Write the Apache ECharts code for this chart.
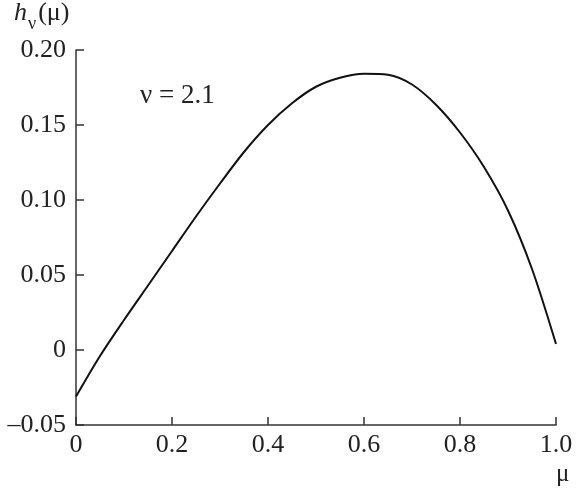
<!DOCTYPE html>
<html>
<head>
<meta charset="utf-8">
<script src="https://cdn.jsdelivr.net/npm/echarts@6/dist/echarts.min.js"></script>
<style>
  html, body { margin: 0; padding: 0; background: #fff; }
  #chart { width: 580px; height: 489px; }
</style>
</head>
<body>
<div id="chart"></div>
<script>
    // values (nu = 2.1)
    const muValues = [0, 0.05, 0.1, 0.15, 0.2, 0.25, 0.3, 0.35, 0.4, 0.45, 0.5,
        0.55, 0.6, 0.65, 0.7, 0.75, 0.8, 0.85, 0.9, 0.95, 1.0];
    const hValues = [-0.031, -0.004, 0.020, 0.043, 0.066, 0.089, 0.111, 0.132, 0.150, 0.1645, 0.1755,
        0.1815, 0.1842, 0.1835, 0.177, 0.1635, 0.145, 0.122, 0.093, 0.054, 0.004];
    const xTicks = { min: 0, max: 1, step: 0.2 };
    const yTicks = { min: -0.05, max: 0.20, step: 0.05 };

    const serif = '"Liberation Serif", "DejaVu Serif", serif';
    const ink = '#222';

    document.addEventListener('DOMContentLoaded', function () {
        const chart = echarts.init(document.getElementById('chart'));
        const option = {
            animation: false,
            backgroundColor: '#fff',
            grid: {
                left: 76,
                right: 24,
                top: 50,
                bottom: 64
            },
            xAxis: {
                type: 'value',
                min: xTicks.min,
                max: xTicks.max,
                interval: xTicks.step,
                axisLine: { onZero: false, lineStyle: { color: '#333', width: 1.5 } },
                axisTick: { inside: true, length: 8, lineStyle: { color: '#333', width: 1.5 } },
                splitLine: { show: false },
                axisLabel: {
                    margin: 7,
                    color: ink,
                    fontFamily: serif,
                    fontSize: 26,
                    formatter: function (v) {
                        if (v === 0) return '0';
                        return v.toFixed(1);
                    }
                }
            },
            yAxis: {
                type: 'value',
                min: yTicks.min,
                max: yTicks.max,
                interval: yTicks.step,
                axisLine: { show: true, onZero: false, lineStyle: { color: '#333', width: 1.5 } },
                axisTick: { show: true, inside: true, length: 8, lineStyle: { color: '#333', width: 1.5 } },
                splitLine: { show: false },
                axisLabel: {
                    margin: 10,
                    color: ink,
                    fontFamily: serif,
                    fontSize: 26,
                    formatter: function (v) {
                        if (Math.abs(v) < 1e-9) return '0';
                        const s = Math.abs(v).toFixed(2);
                        return v < 0 ? '\u20130' + s.slice(1) : s;
                    }
                }
            },
            graphic: [
                {
                    type: 'text',
                    left: 14,
                    top: 0,
                    style: {
                        text: '{h|h}{s|\u03bd}{p|(\u03bc)}',
                        rich: {
                            h: { fontFamily: serif, fontStyle: 'italic', fontSize: 26, fill: ink, lineHeight: 32, verticalAlign: 'bottom' },
                            s: { fontFamily: serif, fontSize: 18, fill: ink, lineHeight: 32, verticalAlign: 'bottom', padding: [0, 2, -7, 1] },
                            p: { fontFamily: serif, fontSize: 26, fill: ink, lineHeight: 32, verticalAlign: 'bottom' }
                        }
                    }
                },
                {
                    type: 'text',
                    left: 140,
                    top: 82,
                    style: {
                        text: '\u03bd = 2.1',
                        fontFamily: serif,
                        fontSize: 27,
                        fill: ink
                    }
                },
                {
                    type: 'text',
                    left: 556,
                    top: 462,
                    style: {
                        text: '\u03bc',
                        fontFamily: serif,
                        fontSize: 25,
                        fill: ink
                    }
                }
            ],
            series: [
                {
                    type: 'line',
                    data: muValues.map((m, i) => [m, hValues[i]]),
                    smooth: 0.3,
                    symbol: 'none',
                    lineStyle: { color: '#111', width: 2 }
                }
            ]
        };
        chart.setOption(option);
    });
</script>
</body>
</html>
